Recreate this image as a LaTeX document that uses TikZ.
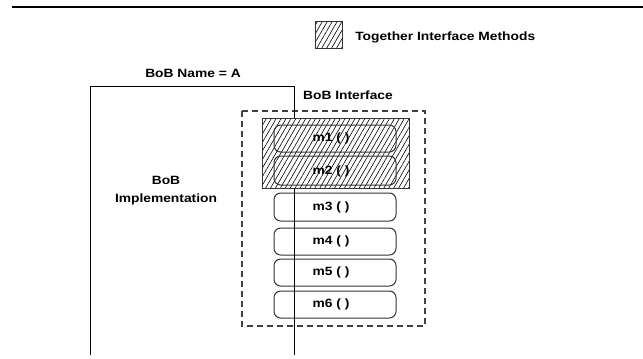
\documentclass[tikz,border=0pt]{standalone}
\usepackage{fontspec}
\setmainfont{Liberation Sans}
\usepackage{graphicx}
\usetikzlibrary{patterns.meta}
\tikzset{
  lbl/.style={inner sep=0pt, font=\bfseries\fontsize{9pt}{10pt}\selectfont},
  meth/.style={draw=black!80, line width=0.75pt, rounded corners=5pt},
  hatchbox/.style={draw=black!80, line width=0.75pt, pattern={Lines[angle=60,distance=3.2pt,line width=0.45pt]}},
  dashbox/.style={draw=black!75, line width=1pt, dash pattern=on 4.5pt off 3pt},
  wire/.style={line width=0.75pt}
}
\newcommand{\wx}[1]{\scalebox{1.15}[1]{#1}}
\begin{document}
\begin{tikzpicture}[x=0.75pt,y=-0.75pt]
\useasboundingbox (0,0) rectangle (643,358);
% top rule
\coordinate (rl) at (12,7);
\coordinate (rr) at (643,7);
\draw[line width=2.2pt] (rl) -- (rr);
% legend
\node[hatchbox, minimum width=20pt, minimum height=20pt, inner sep=0pt] (leg) at (329,35) {};
\node[lbl, anchor=west] (legt) at (355,37) {\wx{Together Interface Methods}};
% implementation box
\coordinate (ibl) at (90,355);
\coordinate (itl) at (90,86);
\coordinate (itr) at (294,86);
\coordinate (ih1) at (294,118);
\coordinate (ih2) at (294,188);
\coordinate (ibr) at (294,355);
\node[lbl] (name) at (193,73) {\wx{BoB Name = A}};
\node[lbl] (bob) at (166,180) {\wx{BoB}};
\node[lbl] (impl) at (166,199) {\wx{Implementation}};
% interface
\node[lbl] (intf) at (348,95) {\wx{BoB Interface}};
\draw[dashbox] (242,111) rectangle (425,326);
\path[hatchbox] (262,118) rectangle (409,188);
\draw[meth] (274,125) rectangle (396,152);
\draw[meth] (274,156) rectangle (396,185);
\draw[meth, fill=white] (274,193) rectangle (396,221);
\draw[meth, fill=white] (274,228) rectangle (396,255);
\draw[meth, fill=white] (274,259) rectangle (396,286);
\draw[meth, fill=white] (274,291) rectangle (396,318);
\node[lbl] (m1) at (331,138) {\wx{m1 ( )}};
\node[lbl] (m2) at (331,171) {\wx{m2 ( )}};
\node[lbl] (m3) at (331,207) {\wx{m3 ( )}};
\node[lbl] (m4) at (331,241) {\wx{m4 ( )}};
\node[lbl] (m5) at (331,272) {\wx{m5 ( )}};
\node[lbl] (m6) at (331,304) {\wx{m6 ( )}};
\draw[wire] (ibl) -- (itl) -- (itr) -- (ih1);
\draw[wire] (ih2) -- (ibr);
\end{tikzpicture}
\end{document}
